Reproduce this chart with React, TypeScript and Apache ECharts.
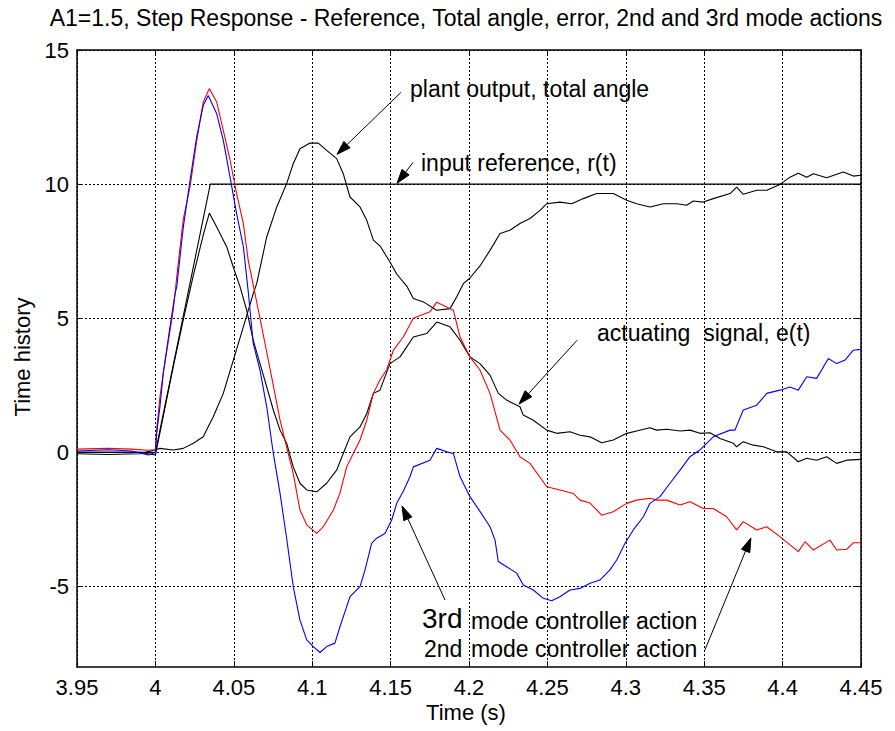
import React, { useEffect, useRef } from "react";
import * as echarts from "echarts";

const xMin = 3.95;
const xMax = 4.45;
const xStep = 0.05;
const yMin = -8;
const yMax = 15;
const yTickValues = [-5, 0, 5, 10, 15];

const titleText =
  "A1=1.5, Step Response - Reference, Total angle, error, 2nd and 3rd mode actions";
const xAxisTitle = "Time (s)";
const yAxisTitle = "Time history";

const referenceInput: number[][] = [
  [3.95, 0], [4.0, 0], [4.035, 10], [4.45, 10],
];

const plantOutput: number[][] = [
  [3.95, -0.05], [3.97, -0.08], [3.99, -0.05], [4.0, 0.1], [4.0029, 0.15], [4.0114, 0.09],
  [4.0178, 0.15], [4.0242, 0.34], [4.0305, 0.58], [4.0369, 1.33], [4.0433, 2.2], [4.0497, 3.44],
  [4.0561, 4.68], [4.0624, 5.92], [4.0646, 6.29], [4.071, 8.03], [4.0774, 9.15], [4.0837, 10.02],
  [4.0879, 10.76], [4.0922, 11.32], [4.0986, 11.53], [4.1039, 11.53], [4.1092, 11.26],
  [4.1156, 10.95], [4.1198, 10.39], [4.1241, 9.52], [4.1305, 9.15], [4.1348, 8.65],
  [4.139, 7.91], [4.1432, 7.7], [4.1496, 7.1], [4.1539, 6.65], [4.1603, 6.2], [4.1645, 5.74],
  [4.1709, 5.61], [4.1794, 5.3], [4.1879, 5.36], [4.1922, 5.8], [4.1964, 6.29], [4.2006, 6.5],
  [4.207, 6.95], [4.2134, 7.53], [4.2198, 8.16], [4.2261, 8.28], [4.2325, 8.53], [4.2389, 8.72],
  [4.2453, 9.02], [4.2496, 9.27], [4.258, 9.33], [4.2655, 9.27], [4.2729, 9.46], [4.2814, 9.65],
  [4.292, 9.65], [4.3006, 9.4], [4.3069, 9.27], [4.3154, 9.15], [4.3239, 9.27], [4.3325, 9.27],
  [4.3388, 9.21], [4.343, 9.37], [4.3494, 9.33], [4.3558, 9.46], [4.3665, 9.65], [4.3707, 9.89],
  [4.3749, 9.62], [4.3835, 9.77], [4.3899, 9.77], [4.3983, 9.99], [4.4047, 10.26], [4.41, 10.41],
  [4.4154, 10.26], [4.4196, 10.39], [4.4281, 10.24], [4.4387, 10.45], [4.4451, 10.3], [4.45, 10.33],
];

const actuatingSignal: number[][] = [
  [3.95, 0.0], [3.99, 0.0], [4.0, -0.1], [4.0114, 3.2], [4.0178, 4.95], [4.0242, 6.6],
  [4.0305, 8.1], [4.0344, 8.92], [4.0391, 8.4], [4.0455, 7.66], [4.0497, 6.9], [4.054, 6.17],
  [4.0582, 5.3], [4.0624, 4.18], [4.0667, 3.31], [4.071, 2.44], [4.0752, 1.58], [4.0795, 0.83],
  [4.0837, 0.34], [4.0879, -0.54], [4.0922, -1.15], [4.0965, -1.4], [4.1029, -1.47],
  [4.1092, -1.15], [4.1156, -0.66], [4.1198, -0.04], [4.1241, 0.58], [4.1305, 0.95],
  [4.1348, 1.45], [4.139, 2.2], [4.1432, 2.32], [4.1496, 3.31], [4.156, 3.56], [4.1645, 4.3],
  [4.173, 4.43], [4.1794, 4.86], [4.1879, 4.68], [4.1943, 4.18], [4.2006, 3.56], [4.207, 3.31],
  [4.2134, 2.88], [4.2187, 2.2], [4.224, 1.95], [4.2325, 1.7], [4.2346, 1.39], [4.241, 1.2],
  [4.2496, 0.83], [4.2559, 0.71], [4.2644, 0.77], [4.2708, 0.64], [4.2772, 0.58], [4.2846, 0.36],
  [4.292, 0.46], [4.3006, 0.71], [4.3069, 0.8], [4.3154, 0.92], [4.3197, 0.83], [4.3261, 0.86],
  [4.3346, 0.8], [4.3409, 0.83], [4.3473, 0.71], [4.3537, 0.73], [4.3601, 0.52], [4.3686, 0.34],
  [4.3707, 0.21], [4.3749, 0.4], [4.3813, 0.27], [4.3877, 0.21], [4.3962, 0.02], [4.4026, 0.02],
  [4.41, -0.35], [4.4154, -0.22], [4.4217, -0.29], [4.4281, -0.16], [4.4345, -0.41],
  [4.4409, -0.29], [4.45, -0.26],
];

const secondModeAction: number[][] = [
  [3.95, 0.12], [3.97, 0.15], [3.985, 0.12], [3.995, 0.08], [4.0, 0.1], [4.0008, 0.83],
  [4.0029, 2.07], [4.005, 2.95], [4.0114, 5.3], [4.0136, 6.54], [4.0178, 8.7], [4.0221, 9.9],
  [4.0263, 11.6], [4.0305, 13.06], [4.0344, 13.56], [4.0391, 13.06], [4.0433, 12.0],
  [4.0476, 10.9], [4.0518, 9.65], [4.0561, 8.53], [4.0592, 7.16], [4.0667, 5.0], [4.0752, 2.5],
  [4.0795, 1.2], [4.0837, 0.2], [4.0879, -0.78], [4.0922, -2.15], [4.0965, -2.7], [4.1029, -3.02],
  [4.1071, -2.77], [4.1135, -2.15], [4.1177, -1.52], [4.122, -0.54], [4.1252, -0.16],
  [4.1305, 0.46], [4.1348, 1.2], [4.139, 2.2], [4.1432, 2.7], [4.1475, 3.07], [4.1517, 3.8],
  [4.1581, 4.3], [4.1645, 5.0], [4.1751, 5.24], [4.1794, 5.6], [4.1858, 5.42], [4.19, 5.3],
  [4.1943, 4.3], [4.2006, 3.56], [4.207, 3.07], [4.2134, 2.2], [4.2198, 0.83], [4.2261, 0.46],
  [4.2325, -0.16], [4.2389, -0.41], [4.2496, -1.28], [4.258, -1.4], [4.2665, -1.53],
  [4.2708, -1.78], [4.2772, -1.89], [4.2846, -2.34], [4.292, -2.21], [4.3006, -1.9],
  [4.3069, -1.78], [4.3154, -1.71], [4.3197, -1.78], [4.3261, -1.78], [4.3346, -1.96],
  [4.3409, -1.84], [4.3494, -2.09], [4.3558, -2.09], [4.3643, -2.4], [4.3707, -2.89],
  [4.3749, -2.58], [4.3835, -2.89], [4.3899, -2.77], [4.3983, -3.14], [4.41, -3.7],
  [4.4143, -3.33], [4.4196, -3.64], [4.4302, -3.27], [4.4345, -3.64], [4.4409, -3.61],
  [4.4451, -3.37], [4.45, -3.37],
];

const thirdModeAction: number[][] = [
  [3.95, 0.05], [3.97, 0.1], [3.985, 0.05], [3.9955, -0.1], [4.0, 0.0], [4.0008, 0.71],
  [4.0029, 1.7], [4.005, 2.94], [4.0093, 4.68], [4.0125, 5.9], [4.0136, 6.17], [4.0178, 8.4],
  [4.0221, 10.14], [4.0263, 11.75], [4.0305, 12.93], [4.0337, 13.3], [4.0391, 12.62],
  [4.0433, 11.63], [4.0476, 10.26], [4.0518, 8.9], [4.0561, 7.66], [4.0592, 6.0], [4.0624, 4.06],
  [4.0667, 3.07], [4.071, 1.7], [4.0752, -0.04], [4.0795, -1.53], [4.0837, -3.2], [4.0879, -5.0],
  [4.0922, -6.25], [4.0965, -6.99], [4.1007, -7.24], [4.105, -7.46], [4.1092, -7.24],
  [4.1145, -7.11], [4.1177, -6.5], [4.122, -5.75], [4.1241, -5.38], [4.1305, -5.0],
  [4.1337, -4.38], [4.1379, -3.39], [4.1411, -3.2], [4.1464, -3.02], [4.1507, -2.52],
  [4.1539, -1.9], [4.1581, -1.45], [4.1624, -0.9], [4.1645, -0.54], [4.1751, -0.29],
  [4.1794, 0.15], [4.1858, 0.02], [4.19, -0.04], [4.1943, -0.91], [4.2006, -1.65], [4.207, -2.2],
  [4.2134, -2.77], [4.2166, -3.27], [4.2187, -4.07], [4.224, -4.26], [4.2304, -4.5],
  [4.2346, -4.94], [4.241, -5.13], [4.2474, -5.44], [4.2527, -5.53], [4.258, -5.38],
  [4.2644, -5.13], [4.2708, -5.07], [4.2772, -4.88], [4.2835, -4.76], [4.2899, -4.38],
  [4.2942, -4.01], [4.2995, -3.39], [4.3048, -2.89], [4.3112, -2.4], [4.3154, -1.9],
  [4.3218, -1.65], [4.3282, -1.15], [4.3346, -0.66], [4.3409, -0.16], [4.3473, 0.09],
  [4.3558, 0.58], [4.3665, 0.83], [4.3696, 0.83], [4.3749, 1.58], [4.3835, 1.76], [4.3899, 2.2],
  [4.3983, 2.32], [4.4047, 2.44], [4.41, 2.32], [4.4154, 2.82], [4.4217, 2.76], [4.4292, 3.5],
  [4.4345, 3.31], [4.4398, 3.44], [4.4451, 3.81], [4.45, 3.84],
];

// annotation arrows in data coordinates: [tailT, tailV, headT, headV]
const arrowDefs: number[][] = [
  [4.1566, 13.42, 4.1158, 11.11],
  [4.1643, 10.81, 4.1541, 10.03],
  [4.2689, 4.18, 4.2319, 1.8],
  [4.1847, -5.5, 4.1573, -2.0],
  [4.3505, -7.36, 4.3798, -3.19],
];

const FONT = "'Liberation Sans', Arial, Helvetica, sans-serif";

export default function App() {
  const ref = useRef<HTMLDivElement>(null);
  useEffect(() => {
    const chart = echarts.init(ref.current!, null, { renderer: "svg" });
    const gridLine = { show: true, lineStyle: { color: "#000", type: [2, 2], width: 1 } };
    const tickStyle = { inside: true, length: 6, lineStyle: { color: "#000", width: 1 } };
    const axisLine = { show: true, onZero: false, lineStyle: { color: "#000", width: 1.5 } };
    const labelStyle = { color: "#000", fontSize: 22, fontFamily: FONT, lineHeight: 20 };
    const line = (name: string, data: number[][], color: string, z: number) => ({
      name,
      type: "line",
      data,
      showSymbol: false,
      symbol: "none",
      lineStyle: { color, width: 1.1 },
      z,
      clip: true,
    });
    chart.setOption({
      animation: false,
      backgroundColor: "#fff",
      grid: { left: 77, right: 34, top: 50, bottom: 64, containLabel: false },
      xAxis: [
        {
          type: "value",
          min: xMin,
          max: xMax,
          interval: xStep,
          axisLine,
          axisTick: tickStyle,
          splitLine: gridLine,
          axisLabel: {
            ...labelStyle,
            margin: 10,
            formatter: (v: number) => String(+v.toFixed(2)),
          },
        },
        {
          type: "value",
          position: "top",
          min: xMin,
          max: xMax,
          interval: xStep,
          axisLine,
          axisTick: tickStyle,
          splitLine: { show: false },
          axisLabel: { show: false },
        },
      ],
      yAxis: [
        {
          type: "value",
          min: yMin,
          max: yMax,
          axisLine,
          axisTick: { ...tickStyle, customValues: yTickValues },
          splitLine: gridLine,
          axisLabel: { ...labelStyle, margin: 8, customValues: yTickValues },
        },
        {
          type: "value",
          position: "right",
          min: yMin,
          max: yMax,
          axisLine,
          axisTick: { ...tickStyle, customValues: yTickValues },
          splitLine: { show: false },
          axisLabel: { show: false, customValues: yTickValues },
        },
      ],
      series: [
        line("input reference, r(t)", referenceInput, "#000", 2),
        line("actuating signal, e(t)", actuatingSignal, "#000", 2),
        line("plant output, total angle", plantOutput, "#000", 2),
        line("2nd mode controller action", secondModeAction, "#ff0000", 3),
        line("3rd mode controller action", thirdModeAction, "#0000ff", 4),
      ],
    });

    const toPx = (t: number, v: number) =>
      chart.convertToPixel({ xAxisIndex: 0, yAxisIndex: 0 }, [t, v]) as number[];

    const arrowGraphics: any[] = [];
    arrowDefs.forEach(([t1, v1, t2, v2]) => {
      const [x1, y1] = toPx(t1, v1);
      const [x2, y2] = toPx(t2, v2);
      const dx = x2 - x1;
      const dy = y2 - y1;
      const len = Math.sqrt(dx * dx + dy * dy);
      const ux = dx / len;
      const uy = dy / len;
      const headLen = 14;
      const headW = 4.5;
      const bx = x2 - ux * headLen;
      const by = y2 - uy * headLen;
      arrowGraphics.push({
        type: "line",
        shape: { x1, y1, x2: bx, y2: by },
        style: { stroke: "#000", lineWidth: 1 },
        z: 10,
      });
      arrowGraphics.push({
        type: "polygon",
        shape: {
          points: [
            [x2, y2],
            [bx - uy * headW, by + ux * headW],
            [bx + uy * headW, by - ux * headW],
          ],
        },
        style: { fill: "#000", stroke: "#000", lineWidth: 1 },
        z: 10,
      });
    });

    const txt = (text: string, x: number, y: number, size: number, align = "left", rotation = 0) => ({
      type: "text",
      x,
      y,
      rotation,
      z: 10,
      style: {
        text,
        fill: "#000",
        font: `${size}px ${FONT}`,
        textAlign: align,
        textVerticalAlign: "middle",
      },
    });

    chart.setOption({
      graphic: [
        txt(titleText, 466, 18, 23, "center"),
        txt(xAxisTitle, 466, 712, 22, "center"),
        txt(yAxisTitle, 22, 357, 22, "center", Math.PI / 2),
        txt("plant output, total angle", 410, 89, 23),
        txt("input reference, r(t)", 421, 163, 23),
        txt("actuating  signal, e(t)", 597, 333, 23),
        txt("3rd", 422, 618, 28),
        txt("mode controller action", 471, 621, 23),
        txt("2nd", 424, 649, 23),
        txt("mode controller action", 471, 649, 23),
        ...arrowGraphics,
      ],
    });

    return () => chart.dispose();
  }, []);
  return (
    <div
      ref={ref}
      style={{ position: "absolute", left: 0, top: 0, width: 895, height: 731, background: "#fff" }}
    />
  );
}
